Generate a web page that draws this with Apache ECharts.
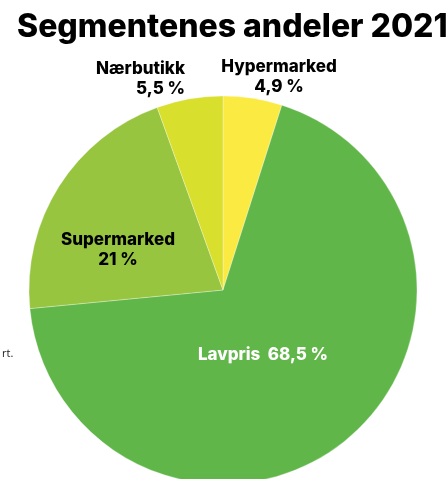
<!DOCTYPE html>
<html><head><meta charset="utf-8">
<script src="https://cdn.jsdelivr.net/npm/echarts@6/dist/echarts.min.js"></script>
<style>html,body{margin:0;padding:0;background:#fff}#c{width:448px;height:479px}</style>
</head><body><div id="c"></div>
<script>
const categories = ['Hypermarked', 'Lavpris', 'Supermarked', 'Nærbutikk'];
const values = [4.9, 68.5, 21, 5.5];
const valueLabels = ['4,9 %', '68,5 %', '21 %', '5,5 %'];
const colors = ['#FBEA41', '#61B64A', '#97C53F', '#D8DF2D'];

const labelPos = [
  {x: 279, y: 77, align: 'center'},
  {x: 263, y: 355, align: 'center'},
  {x: 118, y: 250, align: 'center'},
  {x: 185, y: 79, align: 'right'}
];
const chart = echarts.init(document.getElementById('c'));
chart.setOption({
  animation: false,
  title: {
    text: 'Segmentenes andeler 2021',
    left: 12, top: 6,
    textStyle: {fontFamily: 'Inter', fontWeight: 800, fontSize: 32, color: '#000'}
  },
  graphic: [{
    type: 'text', left: 2, top: 348,
    style: {text: 'rt.', fontFamily: 'Open Sans', fontSize: 11, fill: '#222'}
  }],
  series: [{
    type: 'pie',
    center: [223, 290],
    radius: 194,
    startAngle: 90,
    clockwise: true,
    itemStyle: {borderColor: 'rgba(255,255,255,0.5)', borderWidth: 0.6},
    labelLine: {show: false},
    label: {
      show: true,
      position: 'inside',
      fontFamily: 'Inter', fontWeight: 800, fontSize: 17, lineHeight: 20,
      color: '#000'
    },
    labelLayout: function (p) {
      const l = labelPos[p.dataIndex];
      return {x: l.x, y: l.y, align: l.align, verticalAlign: 'middle'};
    },
    data: categories.map((name, i) => ({
      name, value: values[i],
      itemStyle: {color: colors[i]},
      label: i === 1
        ? {formatter: name + '  ' + valueLabels[i], color: '#fff', fontSize: 17}
        : {formatter: name + '\n' + valueLabels[i], align: i === 3 ? 'right' : 'center'}
    }))
  }]
});
</script></body></html>
